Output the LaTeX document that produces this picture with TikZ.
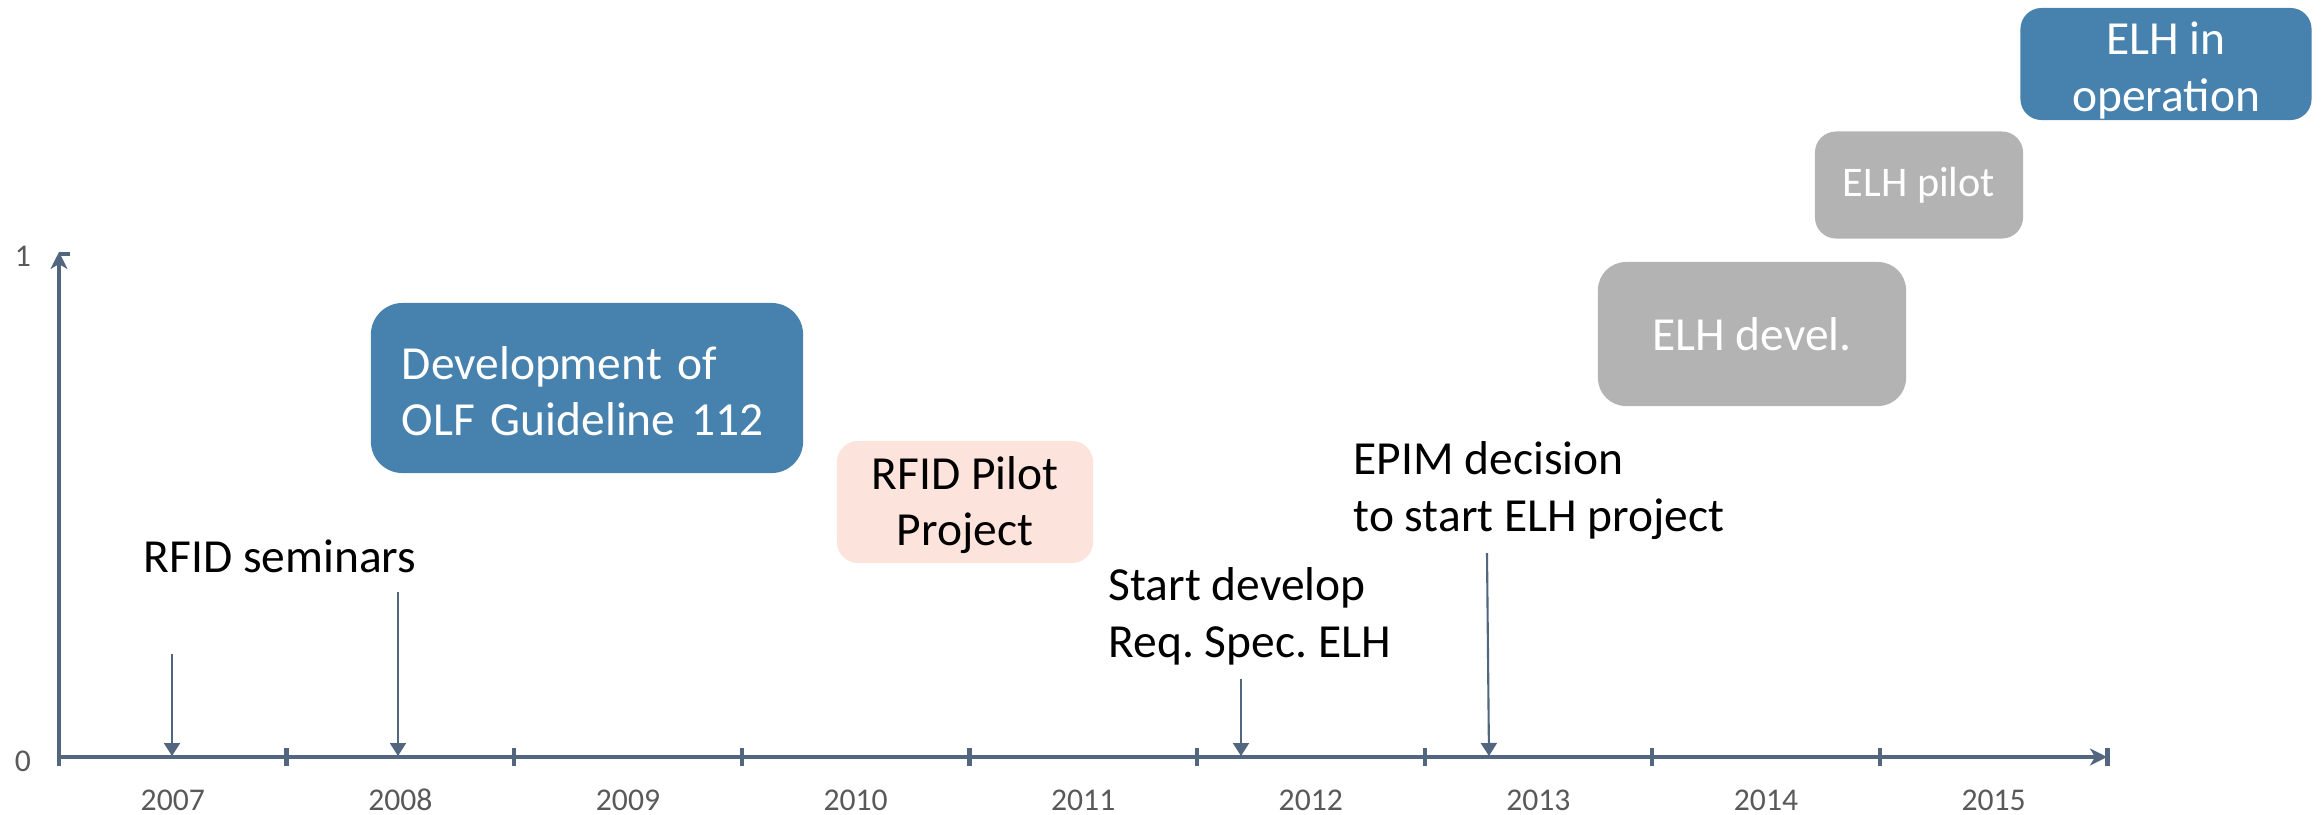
\documentclass[tikz,border=0pt]{standalone}
\usepackage{fontspec}
\setmainfont{Carlito}
\frenchspacing
\usetikzlibrary{arrows.meta, positioning}
\definecolor{olfblue}{RGB}{71, 129, 174}
\definecolor{pilotpink}{RGB}{252, 228, 220}
\definecolor{elhgrey}{RGB}{179, 179, 179}
\definecolor{axisslate}{RGB}{82, 102, 128}
\definecolor{yeargrey}{RGB}{89, 89, 89}

\tikzset{
  phase/.style={rounded corners=6pt, inner sep=0pt, align=center, font=\fontsize{13.5}{16}\selectfont},
  milestone/.style={anchor=base west, inner sep=0pt, align=left, font=\fontsize{13.5}{16}\selectfont},
  evt/.style={draw=axisslate, line width=0.6pt, -{Triangle[width=0.16cm, length=0.13cm]}},
  timeaxis/.style={draw=axisslate, line width=1.2pt},
  yearlabel/.style={text=yeargrey, inner sep=0pt, font=\fontsize{9}{10}\selectfont},
}

\begin{document}
\begin{tikzpicture}[x=0.01cm, y=-0.01cm]
  \useasboundingbox (0,0) rectangle (2323,814);

  % Axes
  \coordinate (orig) at (59,757);
  \coordinate (xend) at (2107,757);
  \coordinate (ybot) at (59,766);
  \coordinate (ytop) at (59,252);
  \draw[timeaxis, -{Stealth[length=0.17cm, width=0.17cm, inset=0.05cm]}] (orig) -- (xend);
  \draw[timeaxis, -{Stealth[length=0.17cm, width=0.17cm, inset=0.05cm]}] (ybot) -- (ytop);
  \draw[timeaxis] (59,254) -- (70,254);
  \foreach \k in {1,...,9}
    \draw[timeaxis] (59+227.6*\k,748) -- (59+227.6*\k,766);
  \foreach \yr [count=\k] in {2007,...,2015}
    \node[yearlabel] (y\yr) at (59+227.6*\k-113.8,800) {\yr};
  \node[yearlabel] (one) at (23,256) {1};
  \node[yearlabel] (zero) at (23,761) {0};

  % Development of OLF Guideline 112
  \node[phase, fill=olfblue, text=white, rounded corners=9pt, text width=3.7cm, align=left, inner xsep=0.31cm, minimum height=1.7cm] (dev) at (587,388) {
    \rule{0pt}{11pt}Development of\\OLF Guideline 112
  };

  % RFID Pilot Project
  \node[phase, fill=pilotpink, minimum width=2.56cm, minimum height=1.22cm] (pilot) at (965,502) {
    \rule{0pt}{11pt}RFID Pilot\\Project
  };

  % ELH devel.
  \node[phase, fill=elhgrey, text=white, rounded corners=8pt, minimum width=3.08cm, minimum height=1.44cm] (elhdev) at (1752,334) {ELH devel.};

  % ELH pilot
  \node[phase, fill=elhgrey, text=white, minimum width=2.08cm, minimum height=1.07cm, font=\fontsize{12}{14}\selectfont] (elhpilot) at (1919,185) {ELH pilot};

  % ELH in operation
  \node[phase, fill=olfblue, text=white, minimum width=2.91cm, minimum height=1.12cm] (elhop) at (2166,64) {
    \rule{0pt}{13pt}ELH in\\operation
  };

  % Milestones
  \node[milestone] (seminars) at (143,572) {RFID seminars};
  \node[milestone] (reqspec) at (1108,657) {Start develop\\Req. Spec. ELH};
  \node[milestone] (epim) at (1353,531) {EPIM decision\\to start ELH project};

  % Milestone arrows
  \coordinate (t07) at (172,654);
  \coordinate (e07) at (172,756);
  \coordinate (t08) at (398,592);
  \coordinate (e08) at (398,756);
  \coordinate (t12) at (1241,679);
  \coordinate (e12) at (1241,756);
  \coordinate (t13) at (1487,553);
  \coordinate (e13) at (1489,756);
  \draw[evt] (t07) -- (e07);
  \draw[evt] (t08) -- (e08);
  \draw[evt] (t12) -- (e12);
  \draw[evt] (t13) -- (e13);
\end{tikzpicture}
\end{document}
